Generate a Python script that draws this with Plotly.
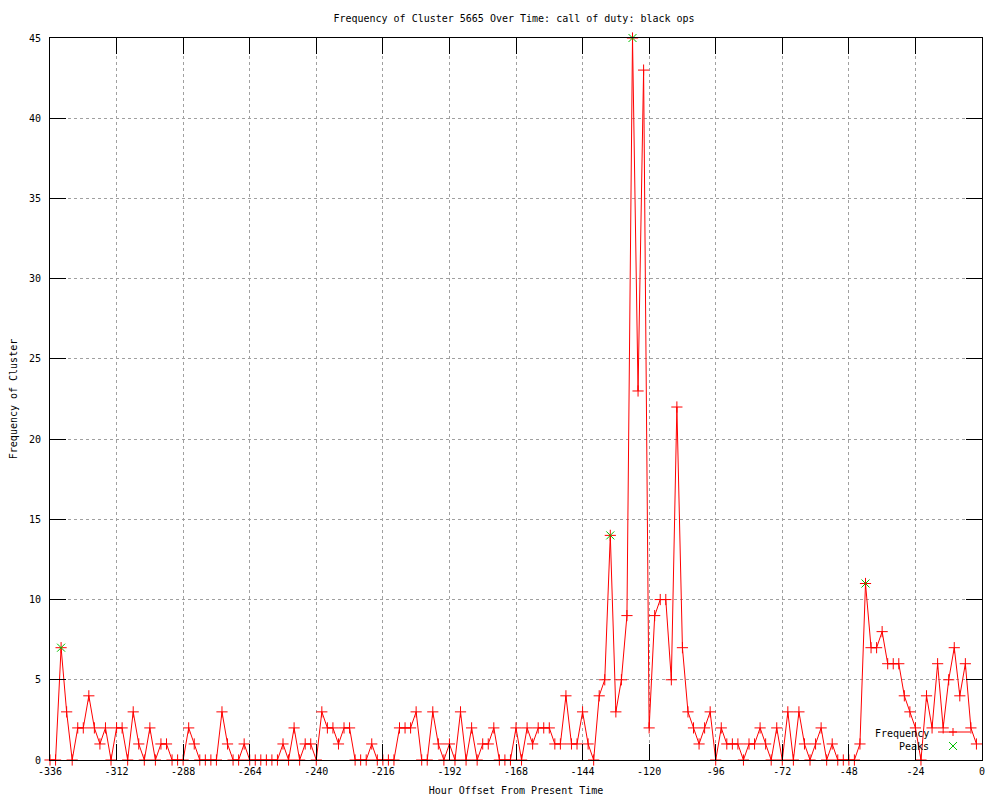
import plotly.graph_objects as go

# ---- data ----
hours = list(range(-336, 0, 2))  # 2-hour bins, -336 .. -2
frequency = [
    0, 0, 7, 3, 0, 2, 2, 4, 2, 1,
    2, 0, 2, 2, 0, 3, 1, 0, 2, 0,
    1, 1, 0, 0, 0, 2, 1, 0, 0, 0,
    0, 3, 1, 0, 0, 1, 0, 0, 0, 0,
    0, 0, 1, 0, 2, 0, 1, 1, 0, 3,
    2, 2, 1, 2, 2, 0, 0, 0, 1, 0,
    0, 0, 0, 2, 2, 2, 3, 0, 0, 3,
    1, 0, 1, 0, 3, 0, 2, 0, 1, 1,
    2, 0, 0, 0, 2, 0, 2, 1, 2, 2,
    2, 1, 1, 4, 1, 1, 3, 1, 0, 4,
    5, 14, 3, 5, 9, 45, 23, 43, 2, 9,
    10, 10, 5, 22, 7, 3, 2, 1, 2, 3,
    0, 2, 1, 1, 1, 0, 1, 1, 2, 1,
    0, 2, 0, 3, 0, 3, 1, 0, 1, 2,
    0, 1, 0, 0, 0, 0, 1, 11, 7, 7,
    8, 6, 6, 6, 4, 3, 2, 0, 4, 2,
    6, 2, 5, 7, 4, 6, 2, 1,
]
peak_hours = [-332, -134, -126, -42]
peak_values = [7, 14, 45, 11]

x_ticks = [-336, -312, -288, -264, -240, -216, -192, -168, -144, -120, -96, -72, -48, -24, 0]
y_ticks = [0, 5, 10, 15, 20, 25, 30, 35, 40, 45]

title_text = "Frequency of Cluster 5665 Over Time: call of duty: black ops"
x_title = "Hour Offset From Present Time"
y_title = "Frequency of Cluster"

RED = "#ff0000"
GREEN = "#00c000"
FONT = "DejaVu Sans Mono"

fig = go.Figure()
fig.add_trace(go.Scatter(
    x=hours, y=frequency, mode="lines+markers", name="Frequency",
    line=dict(color=RED, width=1),
    marker=dict(symbol="cross-thin", size=8, line=dict(color=RED, width=1)),
    cliponaxis=False, showlegend=False,
))
fig.add_trace(go.Scatter(
    x=peak_hours, y=peak_values, mode="markers", name="Peaks",
    marker=dict(symbol="x-thin", size=8, line=dict(color=GREEN, width=1)),
    cliponaxis=False, showlegend=False,
))

# ---- page geometry (page body has an 8px margin) ----
OFF = 8
W, H = 1000 - OFF, 800 - OFF
PL, PT, PR, PB = 50, 38, 982, 760          # plot box in screen pixels
L, T = PL - OFF, PT - OFF
pw, ph = PR - PL, PB - PT
R, B = W - L - pw, H - T - ph

def px(xs):
    return (xs - PL) / pw

def py(ys):
    return (PB - ys) / ph

shapes = []
# Frequency key sample: line with + marker
shapes.append(dict(type="line", xref="paper", yref="paper",
                   x0=px(938), x1=px(970), y0=py(732), y1=py(732),
                   line=dict(color=RED, width=1)))
for (dx0, dy0, dx1, dy1) in [(-4, 0, 4, 0), (0, -4, 0, 4)]:
    shapes.append(dict(type="line", xref="paper", yref="paper",
                       xsizemode="pixel", ysizemode="pixel",
                       xanchor=px(953), yanchor=py(732),
                       x0=dx0, y0=dy0, x1=dx1, y1=dy1,
                       line=dict(color=RED, width=1)))
# Peaks key sample: green x
for (dx0, dy0, dx1, dy1) in [(-4, -4, 4, 4), (-4, 4, 4, -4)]:
    shapes.append(dict(type="line", xref="paper", yref="paper",
                       xsizemode="pixel", ysizemode="pixel",
                       xanchor=px(953), yanchor=py(746),
                       x0=dx0, y0=dy0, x1=dx1, y1=dy1,
                       line=dict(color=GREEN, width=1)))

annotations = [
    dict(text="Frequency", xref="paper", yref="paper", x=px(931), y=py(733),
         xanchor="right", yanchor="middle", showarrow=False,
         font=dict(family=FONT, size=10, color="black")),
    dict(text="Peaks", xref="paper", yref="paper", x=px(931), y=py(746),
         xanchor="right", yanchor="middle", showarrow=False,
         font=dict(family=FONT, size=10, color="black")),
]

axis_common = dict(
    showline=True, linecolor="black", linewidth=1, mirror="ticks",
    ticks="inside", ticklen=16, tickwidth=1, tickcolor="black",
    showgrid=True, gridcolor="#a0a0a0", griddash="dot", gridwidth=1,
    zeroline=False, tickfont=dict(family=FONT, size=10, color="black"),
)

fig.update_layout(
    width=W, height=H,
    margin=dict(l=L, r=R, t=T, b=B, autoexpand=False),
    paper_bgcolor="white", plot_bgcolor="white",
    font=dict(family=FONT, size=10, color="black"),
    title=dict(text=title_text, x=(514 - OFF) / W, xref="container",
               xanchor="center", y=1 - (18 - OFF) / H, yref="container", yanchor="middle",
               font=dict(family=FONT, size=10, color="black")),
    xaxis=dict(range=[-336, 0], tickvals=x_ticks, ticktext=[str(v) for v in x_ticks],
               ticklabelstandoff=2,
               title=dict(text=x_title, standoff=10, font=dict(family=FONT, size=10)),
               **axis_common),
    yaxis=dict(range=[0, 45], tickvals=y_ticks, ticktext=[str(v) for v in y_ticks],
               ticklabelstandoff=6,
               title=dict(text=y_title, standoff=9, font=dict(family=FONT, size=10)),
               **axis_common),
    shapes=shapes, annotations=annotations,
    showlegend=False,
)

fig.write_html("out.html")
